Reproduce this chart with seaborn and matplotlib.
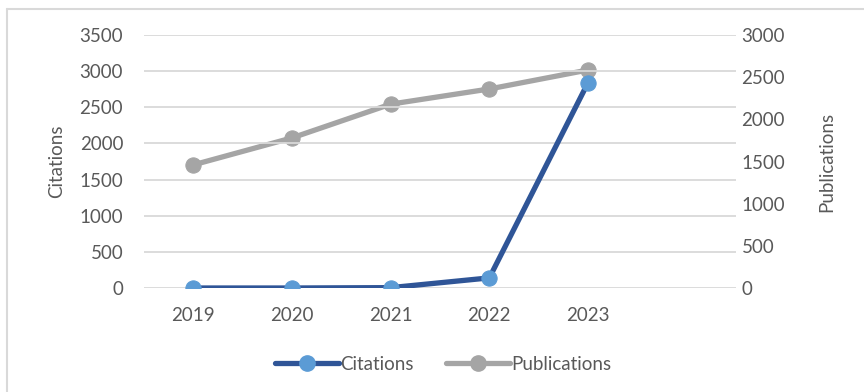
import matplotlib
matplotlib.use("Agg")
import matplotlib.pyplot as plt
import seaborn as sns
import pandas as pd
from matplotlib.lines import Line2D

years = ["2019", "2020", "2021", "2022", "2023"]
citations = [0, 0, 5, 140, 2840]
publications = [1460, 1780, 2180, 2360, 2585]

sns.set_theme(style="white")
plt.rcParams["font.family"] = ["Lato", "DejaVu Sans"]

TXT = "#595959"
GRID = "#d9d9d9"
C_LINE = "#2f5597"
C_MARK = "#5b9bd5"
P_COL = "#a5a5a5"
FS = 13.5

df = pd.DataFrame({"year": years, "Citations": citations, "Publications": publications})

fig = plt.figure(figsize=(8.64, 3.92), dpi=100)
ax = fig.add_axes([144/864, 1-288/392, (736-144)/864, (288-35)/392])
ax2 = ax.twinx()

sns.lineplot(data=df, x="year", y="Citations", ax=ax, color=C_LINE, lw=3.8,
             marker="o", markersize=11, markerfacecolor=C_MARK, markeredgecolor=C_MARK,
             zorder=3, sort=False)
sns.lineplot(data=df, x="year", y="Publications", ax=ax2, color=P_COL, lw=3.8,
             marker="o", markersize=11, markerfacecolor=P_COL, markeredgecolor=P_COL,
             zorder=3, sort=False)

ax.set_xlim(-0.5, 5.5)
ax.set_ylim(0, 3500)
ax2.set_ylim(0, 3000)
ax.set_yticks(range(0, 3501, 500))
ax2.set_yticks(range(0, 3001, 500))
ax.grid(axis="y", color=GRID, lw=1.3)
ax.set_axisbelow(True)
for a in (ax, ax2):
    for s in a.spines.values():
        s.set_visible(False)
    a.tick_params(axis="both", length=0, labelsize=FS, labelcolor=TXT)
ax.tick_params(axis="y", pad=15)
ax2.tick_params(axis="y", pad=4)
ax.tick_params(axis="x", pad=14)
ax.set_xlabel("")
ax.set_ylabel("Citations", fontsize=FS, color=TXT, labelpad=10)
ax2.set_ylabel("Publications", fontsize=FS, color=TXT, labelpad=24)
ax.patch.set_visible(False)
ax.set_zorder(2); ax2.set_zorder(1)

handles = [
    Line2D([], [], color=C_LINE, lw=3.8, marker="o", markersize=11,
           markerfacecolor=C_MARK, markeredgecolor=C_MARK),
    Line2D([], [], color=P_COL, lw=3.8, marker="o", markersize=11,
           markerfacecolor=P_COL, markeredgecolor=P_COL),
]
leg = fig.legend(handles, ["Citations", "Publications"], loc="center",
                 bbox_to_anchor=(0.513, 0.071), ncol=2, frameon=False,
                 fontsize=FS, handlelength=3.4, handletextpad=0.1, columnspacing=1.7)
for t in leg.get_texts():
    t.set_color(TXT)

fig.add_artist(Line2D([7/864, 1], [1-9/392, 1-9/392], color=GRID, lw=1.5, transform=fig.transFigure))
fig.add_artist(Line2D([7/864, 7/864], [0, 1-9/392], color=GRID, lw=1.5, transform=fig.transFigure))

fig.savefig("out.png", dpi=100)
